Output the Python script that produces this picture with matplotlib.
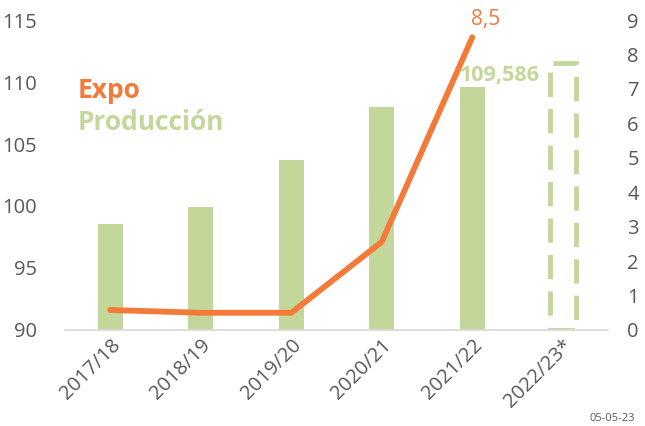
import matplotlib
matplotlib.use("Agg")
import matplotlib.pyplot as plt
import numpy as np

plt.rcParams['font.family'] = ['Open Sans', 'DejaVu Sans']

categories = ["2017/18", "2018/19", "2019/20", "2020/21", "2021/22", "2022/23*"]
produccion = [98.55, 99.9, 103.7, 108.0, 109.586, 111.5]
expo = [0.58, 0.5, 0.5, 2.56, 8.5]

green = '#C4D79B'
orange = '#F47A3A'
gray = '#595959'

fig = plt.figure(figsize=(6.45, 4.26), dpi=100)
ax = fig.add_axes([0.1008, 0.2254, 0.842, 0.7276])
x = np.arange(len(categories))
w = 0.28
ax.bar(x[:-1], produccion[:-1], width=w, color=green, bottom=0)
# estimated bar, dashed outline
ax.bar(x[-1], produccion[-1] - 90, width=w, bottom=90, facecolor='white',
       edgecolor=green, linestyle=(0, (5, 2.5)), linewidth=3.5)
ax.set_ylim(90, 115)
ax.set_xlim(-0.5, 5.5)
ax.set_yticks([90, 95, 100, 105, 110, 115])
ax.tick_params(axis='y', length=0, labelsize=14.5, labelcolor=gray, pad=20)
ax.tick_params(axis='x', length=0, labelsize=14.5, labelcolor=gray, pad=4)
ax.set_xticks(x)
ax.set_xticklabels(categories, rotation=45, ha='right', rotation_mode='anchor')
for s in ['top', 'right', 'left']:
    ax.spines[s].set_visible(False)
ax.spines['bottom'].set_color('#D9D9D9')
ax.spines['bottom'].set_linewidth(1.2)

ax.text(x[4] + 0.3, produccion[4] + 0.1, "109,586", color=green, fontsize=15.5,
        fontweight='bold', ha='center', va='bottom')

ax2 = ax.twinx()
ax2.set_ylim(0, 9)
ax2.set_yticks(range(10))
ax2.tick_params(axis='y', length=0, labelsize=14.5, labelcolor=gray, pad=18)
for lbl in ax2.get_yticklabels():
    lbl.set_horizontalalignment('center')
for s in ['top', 'right', 'left', 'bottom']:
    ax2.spines[s].set_visible(False)

ax2.plot(x[:len(expo)], expo, color=orange, linewidth=4.2,
         solid_capstyle='round', solid_joinstyle='round')
ax2.text(x[len(expo) - 1] + 0.15, expo[-1] + 0.2, "8,5", color=orange,
         fontsize=15, ha='center', va='bottom')

fig.text(0.12, 0.788, "Expo", color=orange, fontsize=19, fontweight='bold',
         va='center')
fig.text(0.12, 0.713, "Producción", color=green, fontsize=19, fontweight='bold',
         va='center')
fig.text(0.985, 0.005, "05-05-23", color=gray, fontsize=8, va='bottom', ha='right')

fig.savefig("out.png", dpi=100)
